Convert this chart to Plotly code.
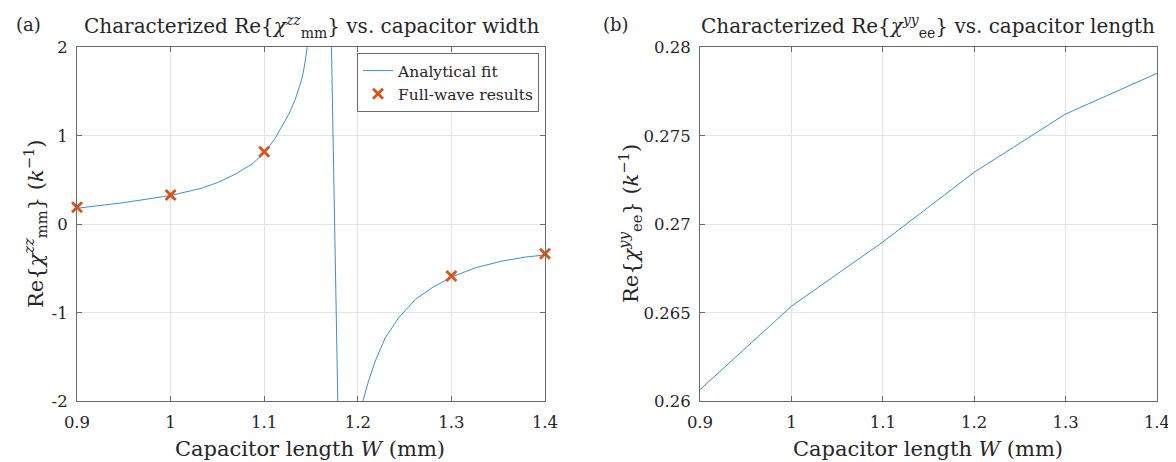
import plotly.graph_objects as go

# ---- data ----
# (a) analytical fit of Re{chi_mm^zz} vs W (samples)
fit_w = [0.9, 0.95, 1.0, 1.0332, 1.0511, 1.0689, 1.0868, 1.1, 1.1118, 1.1225,
         1.1261, 1.1332, 1.1368, 1.1404, 1.1432, 1.1457, 1.15, 1.17,
         1.18, 1.19, 1.2, 1.2054, 1.2114, 1.2186, 1.2293, 1.2436, 1.2614,
         1.2793, 1.3, 1.3257, 1.3543, 1.3793, 1.4]
fit_val = [0.181, 0.245, 0.325, 0.408, 0.475, 0.566, 0.679, 0.804, 0.974, 1.162,
           1.24, 1.41, 1.52, 1.65, 1.80, 2.0, 2.3, 3.1,
           -2.8, -2.5, -2.2, -2.0, -1.774, -1.547, -1.283, -1.057, -0.849,
           -0.717, -0.596, -0.491, -0.415, -0.370, -0.347]
# (a) full-wave results
fw_w = [0.9, 1.0, 1.1, 1.3, 1.4]
fw_val = [0.192, 0.332, 0.819, -0.585, -0.332]
# (b) Re{chi_ee^yy} vs capacitor length
ee_w = [0.9, 1.0, 1.1, 1.2, 1.3, 1.4]
ee_val = [0.26066, 0.26537, 0.26900, 0.27294, 0.27623, 0.27853]

x_ticks = [0.9, 1.0, 1.1, 1.2, 1.3, 1.4]
x_ticktext = ["0.9", "1", "1.1", "1.2", "1.3", "1.4"]
ya_ticks = [-2, -1, 0, 1, 2]
ya_ticktext = ["-2", "-1", "0", "1", "2"]
yb_ticks = [0.26, 0.265, 0.27, 0.275, 0.28]
yb_ticktext = ["0.26", "0.265", "0.27", "0.275", "0.28"]

W, H = 1176, 462
FONT = "DejaVu Serif"
TXT = "#262626"
LINE_BLUE = "#3a8fd3"
ORANGE = "#D95319"
FRAME = "#6a6a6a"
GRID = "#e4e4e4"


def px(x):
    return x / W


def py(y):
    return 1 - y / H


fig = go.Figure()
fig.add_trace(go.Scatter(x=fit_w, y=fit_val, mode="lines", name="Analytical fit",
                         line=dict(color=LINE_BLUE, width=1), xaxis="x", yaxis="y"))
fig.add_trace(go.Scatter(x=fw_w, y=fw_val, mode="markers", name="Full-wave results",
                         marker=dict(symbol="x-thin", size=10, color=ORANGE,
                                     line=dict(color=ORANGE, width=2.8)),
                         cliponaxis=False, xaxis="x", yaxis="y"))
fig.add_trace(go.Scatter(x=ee_w, y=ee_val, mode="lines", showlegend=False,
                         line=dict(color=LINE_BLUE, width=1), xaxis="x2", yaxis="y2"))

ydom = [py(393.3), py(39.3)]
common_x = dict(range=[0.9, 1.4], tickvals=x_ticks, ticktext=x_ticktext,
                ticks="inside", ticklen=5, tickcolor=FRAME, showline=True,
                linecolor=FRAME, linewidth=1, mirror="ticks", showgrid=True,
                gridcolor=GRID, gridwidth=1, zeroline=False, automargin=False,
                ticklabelstandoff=6,
                tickfont=dict(family=FONT, size=16.5, color=TXT))
common_y = dict(ticks="inside", ticklen=5, tickcolor=FRAME, showline=True,
                linecolor=FRAME, linewidth=1, mirror="ticks", showgrid=True,
                gridcolor=GRID, gridwidth=1, zeroline=False, automargin=False,
                ticklabelstandoff=5,
                tickfont=dict(family=FONT, size=16.5, color=TXT))

fig.update_layout(
    width=W, height=H,
    margin=dict(l=0, r=0, t=0, b=0, autoexpand=False),
    paper_bgcolor="white", plot_bgcolor="white",
    font=dict(family=FONT, color=TXT),
    xaxis=dict(domain=[px(69), px(537)], anchor="y", **common_x),
    yaxis=dict(domain=ydom, anchor="x", range=[-2, 2], tickvals=ya_ticks,
               ticktext=ya_ticktext, **common_y),
    xaxis2=dict(domain=[px(692), px(1149)], anchor="y2", **common_x),
    yaxis2=dict(domain=ydom, anchor="x2", range=[0.26, 0.28], tickvals=yb_ticks,
                ticktext=yb_ticktext, **common_y),
    legend=dict(x=px(531), y=py(45), xanchor="right", yanchor="top",
                bgcolor="white", bordercolor=FRAME, borderwidth=1,
                font=dict(family=FONT, size=15.5, color=TXT),
                tracegroupgap=0, itemwidth=30),
    showlegend=True,
)

ann = [
    dict(text="(a)", x=px(20), y=py(16)),
    dict(text="(b)", x=px(608), y=py(16)),
    dict(text="Characterized Re{<i>χ</i><sup><i>zz</i></sup><sub>mm</sub>} vs. capacitor width",
         x=px(303), y=py(19)),
    dict(text="Characterized Re{<i>χ</i><sup><i>yy</i></sup><sub>ee</sub>} vs. capacitor length",
         x=px(920), y=py(19)),
    dict(text="Capacitor length <i>W</i> (mm)", x=px(302), y=py(441)),
    dict(text="Capacitor length <i>W</i> (mm)", x=px(920), y=py(441)),
    dict(text="Re{<i>χ</i><sup><i>zz</i></sup><sub>mm</sub>} (<i>k</i><sup>−1</sup>)",
         x=px(27), y=py(216), textangle=-90),
    dict(text="Re{<i>χ</i><sup><i>yy</i></sup><sub>ee</sub>} (<i>k</i><sup>−1</sup>)",
         x=px(622), y=py(216), textangle=-90),
]
sizes = [18, 18, 20, 20, 21, 21, 21, 21]
for a, s in zip(ann, sizes):
    fig.add_annotation(xref="paper", yref="paper", showarrow=False,
                       xanchor="center", yanchor="middle",
                       font=dict(family=FONT, size=s, color=TXT), **a)

fig.write_html("out.html")
